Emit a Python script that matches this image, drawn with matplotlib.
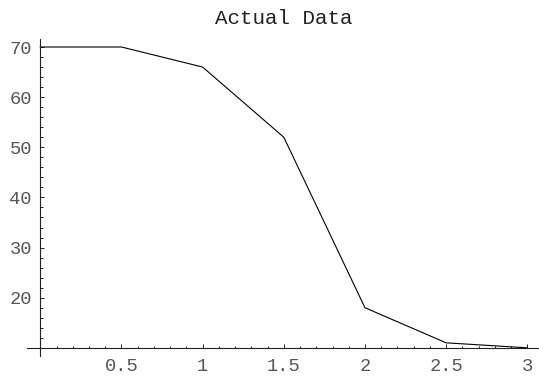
import matplotlib
matplotlib.use("Agg")
import matplotlib.pyplot as plt
from matplotlib.ticker import MultipleLocator, FixedLocator

x_vals = [0, 0.5, 1, 1.5, 2, 2.5, 3]
y_vals = [70, 70, 66, 52, 18, 11, 10]
x_ticks = [0.5, 1, 1.5, 2, 2.5, 3]
x_tick_labels = ["0.5", "1", "1.5", "2", "2.5", "3"]
y_ticks = [20, 30, 40, 50, 60, 70]
y_tick_labels = ["20", "30", "40", "50", "60", "70"]
title = "Actual Data"

W, H = 539, 381
fig = plt.figure(figsize=(W / 100, H / 100), dpi=100)
# axes spans pixels x 27..539, y 39..356
ax = fig.add_axes([27 / W, 1 - 356 / H, (539 - 27) / W, (356 - 39) / H])

px_per_x = (527.3 - 40.3) / 3.0
x0 = 40.3
ax.set_xlim((27 - x0) / px_per_x, (539 - x0) / px_per_x)
px_per_y = (297.7 - 47.0) / 50.0
ax.set_ylim(20 - (356 - 297.7) / px_per_y, 70 + (47 - 39) / px_per_y)

ax.plot(x_vals, y_vals, color="black", lw=0.8)

for s in ["top", "right"]:
    ax.spines[s].set_visible(False)
ax.spines["left"].set_position(("data", 0))
ax.spines["bottom"].set_position(("data", 10))
for s in ["left", "bottom"]:
    ax.spines[s].set_linewidth(0.8)
    ax.spines[s].set_color("#222222")

ax.xaxis.set_major_locator(FixedLocator(x_ticks))
ax.set_xticklabels(x_tick_labels)
ax.xaxis.set_minor_locator(MultipleLocator(0.1))
ax.yaxis.set_major_locator(FixedLocator(y_ticks))
ax.set_yticklabels(y_tick_labels)
ax.yaxis.set_minor_locator(MultipleLocator(2))

font = "Liberation Mono"
ax.tick_params(which="both", direction="in", color="#222222", width=0.7)
ax.tick_params(which="major", length=3.0)
ax.tick_params(which="minor", length=1.8)
ax.tick_params(axis="x", which="major", pad=7)
ax.tick_params(axis="y", which="major", pad=6)
for lab in ax.get_xticklabels() + ax.get_yticklabels():
    lab.set_fontfamily(font)
    lab.set_fontsize(13.5)
    lab.set_color("#555555")

fig.text(283.5 / W, 1 - 19 / H, title, ha="center", va="center",
         fontfamily=font, fontsize=15, color="#222222")

fig.savefig("out.png", dpi=100)
